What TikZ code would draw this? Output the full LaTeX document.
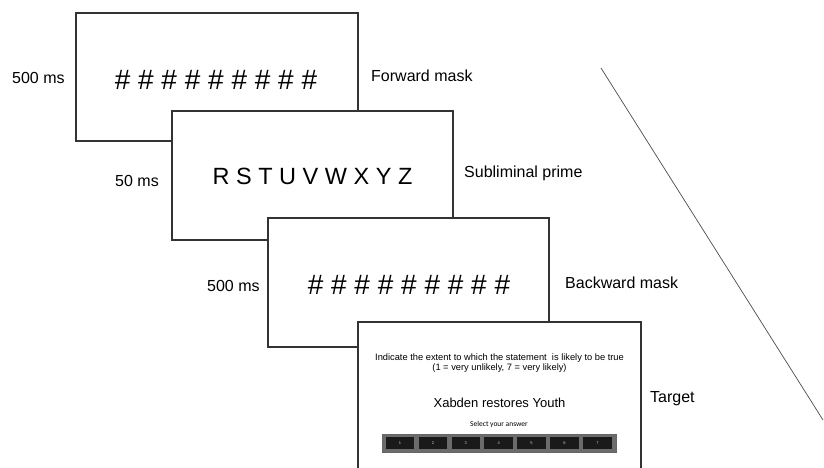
\documentclass[tikz,border=0pt]{standalone}
\usepackage{fontspec}
\setmainfont{Liberation Sans}
\newfontfamily\calib{Carlito}
\definecolor{edge}{HTML}{333333}
\definecolor{bargrey}{HTML}{6B6B6B}
\definecolor{btnblack}{HTML}{1A1A1A}
\begin{document}
\begin{tikzpicture}[x=1pt,y=-1pt,
  screen/.style={draw=edge, line width=1.3pt, fill=white, rectangle, inner sep=0pt},
  lbl/.style={anchor=west, inner sep=0pt, text height=11.5pt, text depth=0pt, font=\fontsize{16}{18}\selectfont},
  hashes/.style={inner sep=0pt, font=\fontsize{28}{30}\selectfont},
  smalltxt/.style={inner sep=0pt, font=\fontsize{9.3}{10}\selectfont},
  btn/.style={fill=btnblack, minimum width=28.6pt, minimum height=12pt, inner sep=0pt, text=white!80!black, font=\fontsize{4}{4}\selectfont}]
\clip (0,0) rectangle (824,467);
\fill[white] (0,0) rectangle (824,467);
% screens
\node[screen, minimum width=282pt, minimum height=128pt] (s1) at (217,77) {};
\node[hashes] (h1) at (216,80) {\# \# \# \# \# \# \# \# \#};
\node[screen, minimum width=281pt, minimum height=129pt] (s2) at (312.5,175.5) {};
\node[inner sep=0pt, font=\fontsize{23.5}{26}\selectfont] (p2) at (312.5,176) {R S T U V W X Y Z};
\node[screen, minimum width=281pt, minimum height=129pt] (s3) at (408.5,282.5) {};
\node[hashes] (h3) at (409,285) {\# \# \# \# \# \# \# \# \#};
\node[screen, minimum width=283pt, minimum height=158pt] (s4) at (499.5,401) {};
\node[smalltxt] (q1) at (499.5,358) {Indicate the extent to which the statement \ is likely to be true};
\node[smalltxt] (q2) at (499.5,368) {(1 = very unlikely, 7 = very likely)};
\node[inner sep=0pt, font=\fontsize{13}{15}\selectfont] (q3) at (499.5,403) {Xabden restores Youth};
\node[inner sep=0pt, font=\calib\fontsize{7.5}{8}\selectfont] (q4) at (499,424) {Select your answer};
\node[fill=bargrey, draw=black!60, line width=0.4pt, minimum width=234pt, minimum height=18pt, inner sep=0pt] (bar) at (499,443) {};
\foreach \k in {1,...,7} {
  \node[btn] (b\k) at ({400+(\k-1)*32.9},443) {\k};
}
% labels
\node[lbl] (t1) at (12,78) {500 ms};
\node[lbl] (l1) at (371,76) {Forward mask};
\node[lbl] (t2) at (115,181) {50 ms};
\node[lbl] (l2) at (464,172) {Subliminal prime};
\node[lbl] (t3) at (207,286) {500 ms};
\node[lbl] (l3) at (565,283) {Backward mask};
\node[lbl] (l4) at (650,397) {Target};
% diagonal line
\coordinate (d1) at (601,68);
\coordinate (d2) at (823,420);
\draw[line width=0.7pt, black!70] (d1) -- (d2);
\end{tikzpicture}
\end{document}
